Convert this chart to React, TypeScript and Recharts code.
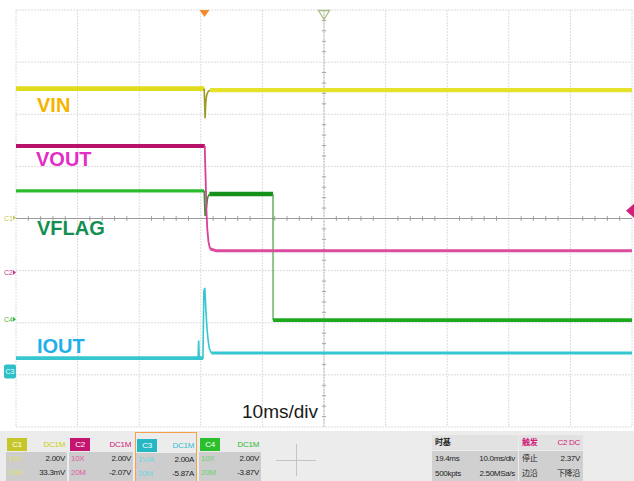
import React from 'react';
import { LineChart, Line, XAxis, YAxis, CartesianGrid, ReferenceLine, ReferenceDot } from 'recharts';

// ---- axes (time in ms relative to screen centre, vertical in divisions) ----
const timeTicks = [-50, -40, -30, -20, -10, 0, 10, 20, 30, 40, 50];
const divTicks = [-4, -3, -2, -1, 0, 1, 2, 3, 4];

// ---- channel settings ----
const chNames = ['C1', 'C2', 'C3', 'C4'];
const chCoupling = ['DC1M', 'DC1M', 'DC1M', 'DC1M'];
const chProbe = ['10X', '10X', '1V/A', '10X'];
const chScaleText = ['2.00V', '2.00V', '2.00A', '2.00V'];
const chBandwidth = ['20M', '20M', '20M', '20M'];
const chOffsetText = ['33.3mV', '-2.07V', '-5.87A', '-3.87V'];
const chOffset = [0.0333, -2.07, -5.87, -3.87];
const chScale = [2, 2, 2, 2];

// ---- C1 VIN (V) ----
const vinPreTime = [-50, -19.45];
const vinPreVolt = [4.95, 4.95];
const vinDipTime = [-19.45, -19.35, -19.3, -19.2, -19.05, -18.8, -18.5];
const vinDipVolt = [4.95, 4.2, 3.81, 4.4, 4.7, 4.84, 4.89];
const vinPostTime = [-18.5, 50];
const vinPostVolt = [4.89, 4.89];

// ---- C2 VOUT (V) ----
const voutPreTime = [-50, -19.35];
const voutPreVolt = [4.85, 4.85];
const voutFallTime = [-19.35, -19.3, -19.2, -19.1, -18.95, -18.75, -18.5];
const voutFallVolt = [4.85, 4.27, 3.47, 2.47, 1.67, 1.17, 0.91];
const voutPostTime = [-18.5, -17.5, 50];
const voutPostVolt = [0.91, 0.83, 0.83];

// ---- C4 VFLAG (V) ----
const flagPreTime = [-50, -19.45];
const flagPreVolt = [4.93, 4.93];
const flagDipTime = [-19.45, -19.3, -19.1, -18.9, -18.6];
const flagDipVolt = [4.93, 3.97, 4.27, 4.67, 4.81];
const flagHoldTime = [-18.6, -8.28];
const flagHoldVolt = [4.81, 4.81];
const flagFallTime = [-8.28, -8.27];
const flagFallVolt = [4.81, -0.03];
const flagLowTime = [-8.27, 50];
const flagLowVolt = [-0.03, -0.03];

// ---- C3 IOUT (A) ----
const ioutPreTime = [-50, -19.65];
const ioutPreAmp = [0.51, 0.51];
const ioutSpikeTime = [-20.45, -20.35, -20.25, -19.65, -19.5, -19.35, -19.2, -19.0, -18.8, -18.6, -18.3];
const ioutSpikeAmp = [0.51, 1.19, 0.51, 0.51, 3.07, 3.21, 2.47, 1.67, 1.17, 0.87, 0.71];
const ioutPostTime = [-18.3, 50];
const ioutPostAmp = [0.71, 0.71];

// ---- trigger / time base ----
const triggerTime = -19.4;
const triggerLevel = 2.37;
const timeBaseHeader = '时基';
const timeBaseRows = [['19.4ms', '10.0ms/div'], ['500kpts', '2.50MSa/s']];
const triggerHeader = ['触发', 'C2 DC'];
const triggerRows = [['停止', '2.37V'], ['边沿', '下降沿']];

const traceLabels = ['VIN', 'VOUT', 'VFLAG', 'IOUT'];
const timeDivLabel = '10ms/div';

type Pt = { t: number; v: number };
const toDiv = (ch: number) => (t: number[], v: number[]): Pt[] =>
  t.map((x, i) => ({ t: x, v: (v[i] + chOffset[ch]) / chScale[ch] }));

const c1 = toDiv(0), c2 = toDiv(1), c3 = toDiv(2), c4 = toDiv(3);

const minorTime: number[] = [];
for (let k = -49; k <= 49; k++) if (k % 2 === 0 && k % 10 !== 0) minorTime.push(k);
const minorDiv: number[] = [];
for (let k = -19; k <= 19; k++) if (k % 5 !== 0) minorDiv.push(k / 5);

const chMarkColor = ['#c8c850', '#c23a80', '#2ebfc8', '#3cb83c'];
const chBadge = ['#c6c62a', '#c41470', '#26b8c2', '#2cbf2c'];
const chAccent = ['#cccc10', '#d0207a', '#2ec0d0', '#30b830'];
const chFaint = ['#e0e070', '#e060a0', '#70d8e0', '#70d070'];

const FONT = "'Liberation Sans', Arial, 'Noto Sans CJK SC', sans-serif";

const line = (data: Pt[], stroke: string, w: number, key: string) => (
  <Line key={key} data={data} dataKey="v" type="linear" stroke={stroke} strokeWidth={w}
    dot={false} activeDot={false} isAnimationActive={false} />
);

const ChannelMark = (ch: number) => (props: any) => {
  const { cy } = props;
  const col = chMarkColor[ch];
  if (ch === 2) {
    return (
      <g>
        <rect x={4} y={cy - 7} width={12} height={14} rx={2} fill={col} />
        <text x={10} y={cy + 3} fontSize={7} fill="#e8ffff" textAnchor="middle" fontFamily={FONT}>{chNames[ch]}</text>
      </g>
    );
  }
  return (
    <g>
      <text x={4} y={cy + 3} fontSize={7} fill={col} fontFamily={FONT}>{chNames[ch]}</text>
      <polygon points={`${13},${cy - 2.5} ${16},${cy} ${13},${cy + 2.5}`} fill={col} />
    </g>
  );
};

const TrigTimeMark = (props: any) => {
  const { cx } = props;
  return <polygon points={`${cx - 5},10 ${cx + 5},10 ${cx},17`} fill="#f08a2c" />;
};
const CenterMark = (props: any) => {
  const { cx } = props;
  return <polygon points={`${cx - 5.5},10.5 ${cx + 5.5},10.5 ${cx},19.5`} fill="none" stroke="#a9bf86" strokeWidth={1.3} />;
};
const TrigLevelMark = (props: any) => {
  const { cy } = props;
  return <polygon points={`634,${cy - 7} 634,${cy + 7} 626,${cy}`} fill="#d0207a" />;
};

const boxLeft = [6, 69, 135, 199];
const boxWidth = [61, 64, 62, 62];

function ChannelBox({ ch }: { ch: number }) {
  const left = boxLeft[ch], width = boxWidth[ch];
  const sel = ch === 2;
  return (
    <div style={{ position: 'absolute', left, top: 432, width, height: 49, boxSizing: 'border-box',
      border: sel ? '1.5px solid #f2a24a' : 'none', fontFamily: FONT, fontSize: 8, letterSpacing: -0.3 }}>
      <div style={{ position: 'absolute', left: 1, top: 6, width: 20, height: 13, background: chBadge[ch],
        color: '#ffffff', textAlign: 'center', lineHeight: '13px' }}>{chNames[ch]}</div>
      <div style={{ position: 'absolute', right: 2, top: 6, lineHeight: '13px', color: chAccent[ch] }}>{chCoupling[ch]}</div>
      <div style={{ position: 'absolute', left: 0, right: 0, top: 20, height: 14, background: '#cdcdcd' }}>
        <span style={{ position: 'absolute', left: 2, lineHeight: '14px', color: chFaint[ch] }}>{chProbe[ch]}</span>
        <span style={{ position: 'absolute', right: 2, lineHeight: '14px', color: '#1e1e1e' }}>{chScaleText[ch]}</span>
      </div>
      <div style={{ position: 'absolute', left: 0, right: 0, top: 34, height: 15, background: '#cdcdcd' }}>
        <span style={{ position: 'absolute', left: 2, lineHeight: '14px', color: chFaint[ch] }}>{chBandwidth[ch]}</span>
        <span style={{ position: 'absolute', right: 2, lineHeight: '14px', color: '#1e1e1e' }}>{chOffsetText[ch]}</span>
      </div>
    </div>
  );
}

function InfoBox({ left, width, header, headerColor, rows }:
  { left: number; width: number; header: string[]; headerColor: string; rows: string[][] }) {
  return (
    <div style={{ position: 'absolute', left, top: 432, width, height: 49, fontFamily: FONT, fontSize: 8, letterSpacing: -0.3 }}>
      <div style={{ position: 'absolute', left: 0, right: 0, top: 3, height: 15, background: '#e2e2e2' }}>
        <span style={{ position: 'absolute', left: 3, lineHeight: '15px', color: headerColor, fontWeight: 'bold' }}>{header[0]}</span>
        {header[1] ? <span style={{ position: 'absolute', right: 3, lineHeight: '15px', color: headerColor }}>{header[1]}</span> : null}
      </div>
      {rows.map((r, i) => (
        <div key={i} style={{ position: 'absolute', left: 0, right: 0, top: 19 + i * 15, height: 15, background: '#d0d0d0' }}>
          <span style={{ position: 'absolute', left: 3, lineHeight: '15px', color: '#1e1e1e' }}>{r[0]}</span>
          <span style={{ position: 'absolute', right: 3, lineHeight: '15px', color: '#1e1e1e' }}>{r[1]}</span>
        </div>
      ))}
    </div>
  );
}

export default function App() {
  return (
    <div style={{ position: 'absolute', left: 0, top: 0, width: 634, height: 481, background: '#ffffff', overflow: 'hidden' }}>
      <LineChart width={634} height={481} margin={{ top: 10, left: 16, right: 2, bottom: 54 }}>
        <XAxis type="number" dataKey="t" domain={[-50, 50]} ticks={timeTicks} hide allowDataOverflow />
        <YAxis type="number" domain={[-4, 4]} ticks={divTicks} hide allowDataOverflow />
        <CartesianGrid stroke="#dcdcdc" strokeDasharray="2 1" />
        <ReferenceLine y={0} stroke="#9c9c9c" strokeWidth={1} />
        <ReferenceLine x={0} stroke="#bcbcbc" strokeWidth={1} strokeDasharray="2 1" />
        {minorTime.map((x) => (
          <ReferenceLine key={'mt' + x} segment={[{ x, y: -0.045 }, { x, y: 0.045 }]} stroke="#9c9c9c" ifOverflow="visible" />
        ))}
        {minorDiv.map((y) => (
          <ReferenceLine key={'md' + y} segment={[{ x: -0.35, y }, { x: 0.35, y }]} stroke="#a8a8a8" ifOverflow="visible" />
        ))}

        {line(c3(ioutPreTime, ioutPreAmp), '#36c6cf', 3.8, 'i1')}
        {line(c3(ioutSpikeTime, ioutSpikeAmp), '#36c6cf', 1.6, 'i2')}
        {line(c3(ioutPostTime, ioutPostAmp), '#36c6cf', 3.2, 'i3')}

        {line(c4(flagPreTime, flagPreVolt), '#2cbb2c', 3.2, 'f1')}
        {line(c4(flagDipTime, flagDipVolt), '#2a9a2a', 1.6, 'f2')}
        {line(c4(flagHoldTime, flagHoldVolt), '#15901a', 4.5, 'f3')}
        {line(c4(flagFallTime, flagFallVolt), '#44a044', 1.2, 'f4')}
        {line(c4(flagLowTime, flagLowVolt), '#1ea81e', 3.6, 'f5')}

        {line(c2(voutPreTime, voutPreVolt), '#b8126a', 4, 'o1')}
        {line(c2(voutFallTime, voutFallVolt), '#d8409a', 1.8, 'o2')}
        {line(c2(voutPostTime, voutPostVolt), '#dc4c9e', 3, 'o3')}

        {line(c1(vinPreTime, vinPreVolt), '#dedc1c', 4.6, 'v1')}
        {line(c1(vinDipTime, vinDipVolt), '#9a9a20', 1.6, 'v2')}
        {line(c1(vinPostTime, vinPostVolt), '#e4e22a', 4.2, 'v3')}

        {chNames.map((n, ch) => (
          <ReferenceDot key={'cm' + n} x={-50} y={chOffset[ch] / chScale[ch]} r={0} ifOverflow="visible" shape={ChannelMark(ch)} />
        ))}
        <ReferenceDot x={triggerTime} y={4} r={0} ifOverflow="visible" shape={TrigTimeMark} />
        <ReferenceDot x={0} y={4} r={0} ifOverflow="visible" shape={CenterMark} />
        <ReferenceDot x={50} y={(triggerLevel + chOffset[1]) / chScale[1]} r={0} ifOverflow="visible" shape={TrigLevelMark} />
      </LineChart>

      <svg width={634} height={481} style={{ position: 'absolute', left: 0, top: 0, pointerEvents: 'none' }}>
        <g fontFamily={FONT} fontWeight="bold" fontSize={20}>
          <text x={37} y={112} fill="#f5b400">{traceLabels[0]}</text>
          <text x={36} y={166} fill="#e22ec6">{traceLabels[1]}</text>
          <text x={37} y={235} fill="#138f52">{traceLabels[2]}</text>
          <text x={37} y={353} fill="#1fb0ea">{traceLabels[3]}</text>
        </g>
        <text x={242} y={418} fontFamily={FONT} fontSize={19} fill="#1a1a1a">{timeDivLabel}</text>
      </svg>

      <div style={{ position: 'absolute', left: 0, top: 431, width: 634, height: 50, background: '#ececec' }} />
      {chNames.map((n, ch) => <ChannelBox key={n} ch={ch} />)}
      <div style={{ position: 'absolute', left: 276, top: 460, width: 40, height: 1, background: '#c4c4c4' }} />
      <div style={{ position: 'absolute', left: 296, top: 444, width: 1, height: 32, background: '#c4c4c4' }} />
      <InfoBox left={432} width={86} header={[timeBaseHeader]} headerColor="#1e1e1e" rows={timeBaseRows} />
      <InfoBox left={519} width={64} header={triggerHeader} headerColor="#d0207a" rows={triggerRows} />
    </div>
  );
}
